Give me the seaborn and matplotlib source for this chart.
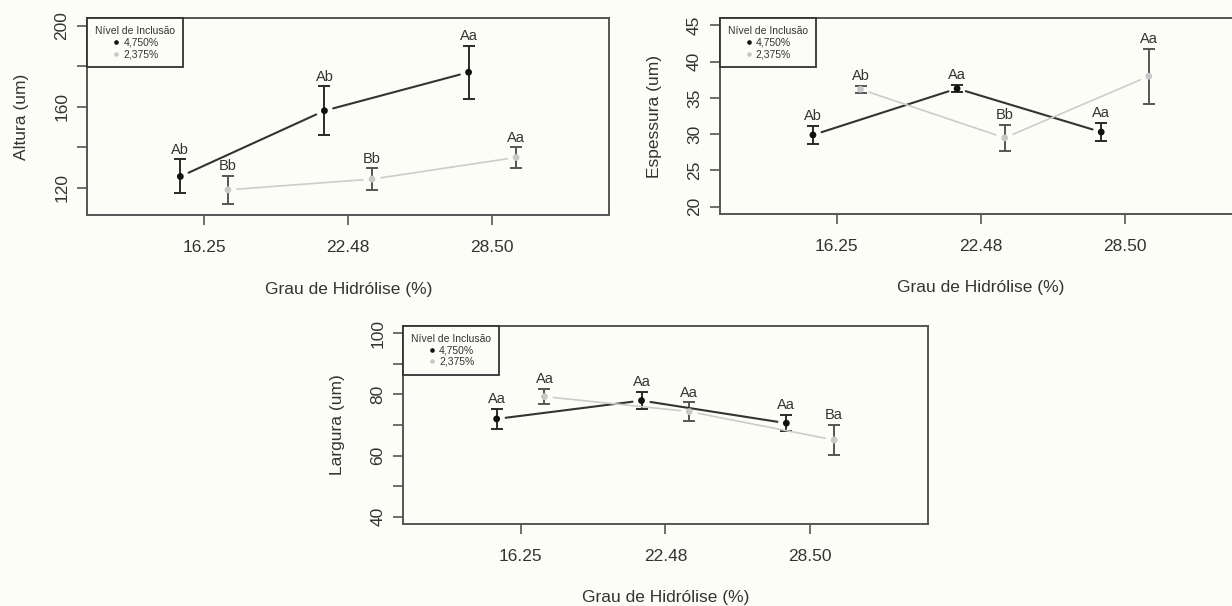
import matplotlib
matplotlib.use("Agg")
import matplotlib.pyplot as plt
from matplotlib.lines import Line2D
import pandas as pd
import seaborn as sns

# Data
hidrolise = ["16.25", "22.48", "28.50"]
niveis = ["4,750%", "2,375%"]

altura_4750 = [125.5, 158.0, 177.0]
altura_4750_err = [8.4, 12.0, 13.2]
altura_2375 = [118.9, 124.2, 134.9]
altura_2375_err = [7.0, 5.3, 5.0]
altura_letras_4750 = ["Ab", "Ab", "Aa"]
altura_letras_2375 = ["Bb", "Bb", "Aa"]

espessura_4750 = [29.9, 36.3, 30.3]
espessura_4750_err = [1.2, 0.5, 1.3]
espessura_2375 = [36.2, 29.5, 38.0]
espessura_2375_err = [0.5, 1.75, 3.8]
espessura_letras_4750 = ["Ab", "Aa", "Aa"]
espessura_letras_2375 = ["Ab", "Bb", "Aa"]

largura_4750 = [72.0, 78.0, 70.6]
largura_4750_err = [3.2, 2.9, 2.6]
largura_2375 = [79.3, 74.4, 65.1]
largura_2375_err = [2.5, 3.0, 5.0]
largura_letras_4750 = ["Aa", "Aa", "Aa"]
largura_letras_2375 = ["Aa", "Aa", "Ba"]

sns.set_theme(style="white")
plt.rcParams["font.family"] = ["Liberation Sans", "DejaVu Sans"]

fundo = "#fdfdf8"
cinza_eixo = "#555555"
texto = "#333333"

# style per level: (offset, line colour, point colour, errorbar colour, line width)
estilo = {
    "4,750%": (-0.165, "#333333", "#111111", "#2a2a2a", 1.5),
    "2,375%": (0.165, "#cccccc", "#c8c8c8", "#555555", 1.2),
}


def monta_df(m1, e1, l1, m2, e2, l2):
    linhas = []
    for nivel, med, err, let in [("4,750%", m1, e1, l1), ("2,375%", m2, e2, l2)]:
        for i, h in enumerate(hidrolise):
            linhas.append({"hid": h, "pos": i + 1, "nivel": nivel,
                           "media": med[i], "erro": err[i], "letra": let[i]})
    df = pd.DataFrame(linhas)
    df["x"] = df["pos"] + df["nivel"].map(lambda n: estilo[n][0])
    return df


def painel(ax, df, ylabel, ylim, yticks, ylabels):
    ax.set_facecolor(fundo)
    ax.set_xlim(0.19, 3.81)
    ax.set_ylim(*ylim)
    for nivel in niveis:
        _, c_linha, c_ponto, c_erro, lw = estilo[nivel]
        sub = df[df["nivel"] == nivel].reset_index(drop=True)
        # line segments with small gaps around the points (R type = "b")
        for i in range(len(sub) - 1):
            ax.annotate("", xy=(sub.x[i + 1], sub.media[i + 1]),
                        xytext=(sub.x[i], sub.media[i]),
                        arrowprops=dict(arrowstyle="-", shrinkA=6.5, shrinkB=6.5,
                                        color=c_linha, lw=lw))
        ax.errorbar(sub.x, sub.media, yerr=sub.erro, fmt="none", ecolor=c_erro,
                    elinewidth=1.4, capsize=4, capthick=1.4, zorder=2)
        for i in range(len(sub)):
            ax.annotate(sub.letra[i], (sub.x[i], sub.media[i] + sub.erro[i]),
                        xytext=(0, 2), textcoords="offset points",
                        ha="center", va="bottom", fontsize=10.5, color=texto)
    sns.scatterplot(data=df, x="x", y="media", hue="nivel",
                    palette={n: estilo[n][2] for n in niveis},
                    s=24, edgecolor="none", legend=False, ax=ax, zorder=3)

    ax.set_xticks([1, 2, 3])
    ax.set_xticklabels(hidrolise)
    ax.set_yticks(yticks)
    ax.set_yticklabels(ylabels, rotation=90, va="center")
    ax.tick_params(axis="both", direction="out", length=7, width=1.2,
                   color=cinza_eixo, labelsize=12.5, labelcolor=texto)
    ax.tick_params(axis="x", pad=11, bottom=True)
    ax.tick_params(axis="y", pad=6, left=True)
    for s in ax.spines.values():
        s.set_color(cinza_eixo)
        s.set_linewidth(1.4)
    ax.set_xlabel("Grau de Hidrólise (%)", fontsize=12.5, color=texto, labelpad=19)
    ax.set_ylabel(ylabel, fontsize=12.5, color=texto, labelpad=18)

    handles = [Line2D([], [], marker="o", ls="", markersize=2.3,
                      color=estilo[n][2]) for n in niveis]
    leg = ax.legend(handles, niveis, title="Nível de Inclusão", loc="upper left",
                    bbox_to_anchor=(0, 1), borderaxespad=0, fontsize=7.5,
                    title_fontsize=7.5, frameon=True, fancybox=False,
                    edgecolor="#333333", facecolor=fundo, framealpha=1,
                    handlelength=0.8, handletextpad=0.3, borderpad=0.75,
                    labelspacing=0.15, alignment="center")
    leg.get_frame().set_linewidth(1.3)
    for t in leg.get_texts():
        t.set_color(texto)
    leg.get_title().set_color(texto)


fig = plt.figure(figsize=(12.32, 6.06), dpi=100, facecolor=fundo)
ax1 = fig.add_axes([0.0709, 0.645, 0.4235, 0.3246])
ax2 = fig.add_axes([0.5844, 0.6469, 0.4235, 0.3230])
ax3 = fig.add_axes([0.3273, 0.1353, 0.4256, 0.3267])

painel(ax1, monta_df(altura_4750, altura_4750_err, altura_letras_4750,
                     altura_2375, altura_2375_err, altura_letras_2375),
       "Altura (um)", (106.4, 203.6), [120, 140, 160, 180, 200],
       ["120", "", "160", "", "200"])
painel(ax2, monta_df(espessura_4750, espessura_4750_err, espessura_letras_4750,
                     espessura_2375, espessura_2375_err, espessura_letras_2375),
       "Espessura (um)", (19.0, 46.0), [20, 25, 30, 35, 40, 45],
       ["20", "25", "30", "35", "40", "45"])
painel(ax3, monta_df(largura_4750, largura_4750_err, largura_letras_4750,
                     largura_2375, largura_2375_err, largura_letras_2375),
       "Largura (um)", (37.6, 102.4), [40, 50, 60, 70, 80, 90, 100],
       ["40", "", "60", "", "80", "", "100"])

fig.savefig("out.png", dpi=100, facecolor=fig.get_facecolor())
